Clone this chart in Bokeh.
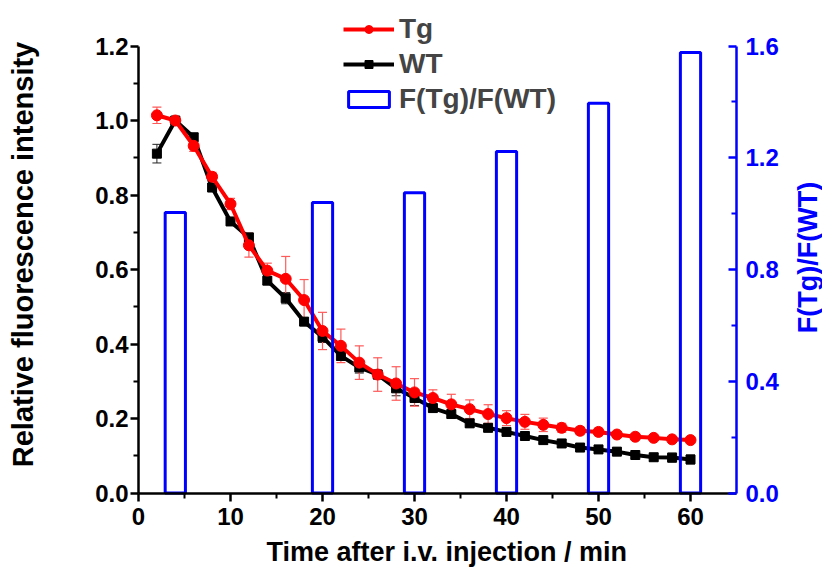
import math
from bokeh.plotting import figure
from bokeh.models import (Range1d, LinearAxis, FixedTicker, NumeralTickFormatter, Title,
                          ColumnDataSource, Whisker, TeeHead, Legend, LegendItem)
from bokeh.core.properties import value
from bokeh.embed import file_html
from bokeh.resources import INLINE

# ---------------- data ----------------
time_min = [2, 4, 6, 8, 10, 12, 14, 16, 18, 20, 22, 24, 26, 28, 30,
            32, 34, 36, 38, 40, 42, 44, 46, 48, 50, 52, 54, 56, 58, 60]
tg_mean = [1.014, 1.000, 0.932, 0.849, 0.776, 0.665, 0.597, 0.575, 0.518, 0.435,
           0.395, 0.350, 0.318, 0.294, 0.270, 0.255, 0.238, 0.225, 0.212, 0.201,
           0.191, 0.183, 0.175, 0.167, 0.164, 0.157, 0.151, 0.148, 0.144, 0.142]
tg_err = [0.022, 0.010, 0.015, 0.012, 0.015, 0.032, 0.020, 0.060, 0.055, 0.050,
          0.045, 0.045, 0.045, 0.045, 0.037, 0.022, 0.027, 0.025, 0.025, 0.020,
          0.020, 0.018, 0.012, 0.010, 0.010, 0.008, 0.008, 0.006, 0.006, 0.006]
wt_mean = [0.911, 1.000, 0.955, 0.820, 0.729, 0.686, 0.570, 0.523, 0.460, 0.419,
           0.368, 0.337, 0.318, 0.281, 0.255, 0.228, 0.212, 0.187, 0.175, 0.164,
           0.153, 0.142, 0.133, 0.122, 0.117, 0.111, 0.102, 0.096, 0.095, 0.090]
wt_err = [0.025, 0.010, 0.010, 0.010, 0.010, 0.012, 0.010, 0.015, 0.010, 0.015,
          0.012, 0.015, 0.012, 0.020, 0.020, 0.010, 0.010, 0.010, 0.010, 0.010,
          0.010, 0.010, 0.010, 0.010, 0.010, 0.010, 0.010, 0.010, 0.012, 0.012]
ratio_time = [4, 20, 30, 40, 50, 60]
ratio_value = [1.004, 1.040, 1.075, 1.222, 1.395, 1.577]

x_ticks = [0, 10, 20, 30, 40, 50, 60]
x_minor_ticks = [5, 15, 25, 35, 45, 55]
y_ticks = [0.0, 0.2, 0.4, 0.6, 0.8, 1.0, 1.2]
y_minor_ticks = [0.1, 0.3, 0.5, 0.7, 0.9, 1.1]
r_ticks = [0.0, 0.4, 0.8, 1.2, 1.6]
r_minor_ticks = [0.2, 0.6, 1.0, 1.4]
x_axis_end = 65

x_title = "Time after i.v. injection / min"
y_title = "Relative fluorescence intensity"
y2_title = "F(Tg)/F(WT)"

# ---------------- layout (pixels) ----------------
W, H = 822, 569
FRAME_TOP = 8
BORDER_BOTTOM = 37
FRAME_BOTTOM = H - BORDER_BOTTOM
X0_PX, XEND_PX = 138, 736        # where x = 0 and x = 65 sit
ZERO_PX, TOP_TICK_PX = 492.5, 45.5   # where y = 0 and y = 1.2 sit

ux = (XEND_PX - X0_PX) / x_axis_end
x_view = (-X0_PX / ux, (W - X0_PX) / ux)
uy = (ZERO_PX - TOP_TICK_PX) / y_ticks[-1]
y_view = (-(FRAME_BOTTOM - ZERO_PX) / uy, (ZERO_PX - FRAME_TOP) / uy)
ur = (ZERO_PX - TOP_TICK_PX) / r_ticks[-1]
r_view = (-(FRAME_BOTTOM - ZERO_PX) / ur, (ZERO_PX - FRAME_TOP) / ur)

FONT = "Liberation Sans"
RED = "#ff0000"
BLUE = "#0000ff"

src = ColumnDataSource(dict(
    t=time_min, tg=tg_mean, wt=wt_mean,
    tg_lo=[m - e for m, e in zip(tg_mean, tg_err)],
    tg_hi=[m + e for m, e in zip(tg_mean, tg_err)],
    wt_lo=[m - e for m, e in zip(wt_mean, wt_err)],
    wt_hi=[m + e for m, e in zip(wt_mean, wt_err)],
))
bar_src = ColumnDataSource(dict(t=ratio_time, r=ratio_value))

p = figure(width=W, height=H, output_backend="svg", toolbar_location=None,
           x_range=Range1d(*x_view), y_range=Range1d(*y_view),
           min_border_left=0, min_border_right=0,
           min_border_top=FRAME_TOP, min_border_bottom=BORDER_BOTTOM)
p.extra_y_ranges = {"ratio": Range1d(*r_view)}
p.outline_line_color = None
p.xgrid.visible = False
p.ygrid.visible = False
p.background_fill_color = "white"
p.border_fill_color = "white"


def style_axis(ax, color, tick_in, tick_out, minor_in, minor_out, standoff):
    ax.axis_line_color = color
    ax.axis_line_width = 2.5
    ax.major_tick_line_color = color
    ax.major_tick_line_width = 2.5
    ax.minor_tick_line_color = color
    ax.minor_tick_line_width = 2
    ax.major_tick_in = tick_in
    ax.major_tick_out = tick_out
    ax.minor_tick_in = minor_in
    ax.minor_tick_out = minor_out
    ax.major_label_text_font = FONT
    ax.major_label_text_font_style = "bold"
    ax.major_label_text_font_size = "24px"
    ax.major_label_text_color = color
    ax.major_label_standoff = standoff


# bottom axis pinned at y = 0
xa = p.xaxis[0]
xa.fixed_location = 0
xa.ticker = FixedTicker(ticks=x_ticks, minor_ticks=x_minor_ticks)
xa.bounds = (0, x_axis_end)
style_axis(xa, "black", 0, 8, 0, 5, 7)

# left axis pinned at x = 0
ya = p.yaxis[0]
ya.fixed_location = 0
ya.ticker = FixedTicker(ticks=y_ticks, minor_ticks=y_minor_ticks)
ya.formatter = NumeralTickFormatter(format="0.0")
ya.bounds = (0, y_ticks[-1])
style_axis(ya, "black", 0, 8, 0, 5, 2)

# right axis pinned at x = 65
ya2 = LinearAxis(y_range_name="ratio", fixed_location=x_axis_end)
ya2.ticker = FixedTicker(ticks=r_ticks, minor_ticks=r_minor_ticks)
ya2.formatter = NumeralTickFormatter(format="0.0")
ya2.bounds = (0, r_ticks[-1])
style_axis(ya2, BLUE, 8, 0, 5, 0, 9)
p.add_layout(ya2, "right")

# x-axis title below
p.add_layout(Title(text=x_title, align="left", offset=266, standoff=4,
                   text_font=FONT, text_font_style="bold", text_font_size="27px",
                   text_color="black"), "below")

# error bars
p.add_layout(Whisker(base="t", upper="wt_hi", lower="wt_lo", source=src, dimension="height",
                     line_color="#222222", line_width=1,
                     upper_head=TeeHead(size=9, line_color="#222222", line_width=1),
                     lower_head=TeeHead(size=9, line_color="#222222", line_width=1)))
p.add_layout(Whisker(base="t", upper="tg_hi", lower="tg_lo", source=src, dimension="height",
                     line_color="#ff5a5a", line_width=1.2,
                     upper_head=TeeHead(size=9, line_color="#ff5a5a", line_width=1.2),
                     lower_head=TeeHead(size=9, line_color="#ff5a5a", line_width=1.2)))

wt_line = p.line("t", "wt", source=src, line_color="black", line_width=4)
wt_pts = p.scatter("t", "wt", source=src, marker="square", size=9,
                   fill_color="black", line_color="black")
tg_line = p.line("t", "tg", source=src, line_color=RED, line_width=4)
tg_pts = p.scatter("t", "tg", source=src, marker="circle", size=11,
                   fill_color=RED, line_color=RED)

bars = p.vbar(x="t", top="r", bottom=0, width=2.2, source=bar_src, y_range_name="ratio",
              fill_alpha=0, line_color=BLUE, line_width=3)

# left-axis title, reading bottom to top
p.text(x=[0], y=[y_ticks[-1] / 2], text=[y_title],
       angle=math.pi / 2, x_offset=-116, y_offset=-15,
       text_align="center", text_baseline="middle",
       text_font=value(FONT), text_font_style="bold", text_font_size="29px",
       text_color="black")

# right-axis title, reading bottom to top
p.text(x=[x_axis_end], y=[r_ticks[-1] / 2], text=[y2_title], y_range_name="ratio",
       angle=math.pi / 2, x_offset=71, y_offset=-12,
       text_align="center", text_baseline="middle",
       text_font=value(FONT), text_font_style="bold", text_font_size="27px",
       text_color=BLUE)

legend = Legend(items=[LegendItem(label="Tg", renderers=[tg_line, tg_pts]),
                       LegendItem(label="WT", renderers=[wt_line, wt_pts]),
                       LegendItem(label="F(Tg)/F(WT)", renderers=[bars])],
                location=(343, FRAME_BOTTOM - 115), orientation="vertical",
                border_line_alpha=0, background_fill_alpha=0,
                label_text_font=FONT, label_text_font_style="bold",
                label_text_font_size="28px",
                glyph_width=51, glyph_height=20, label_height=20,
                label_standoff=5, spacing=3, padding=0, margin=0)
p.add_layout(legend)

open("out.html", "w").write(file_html(p, INLINE))
